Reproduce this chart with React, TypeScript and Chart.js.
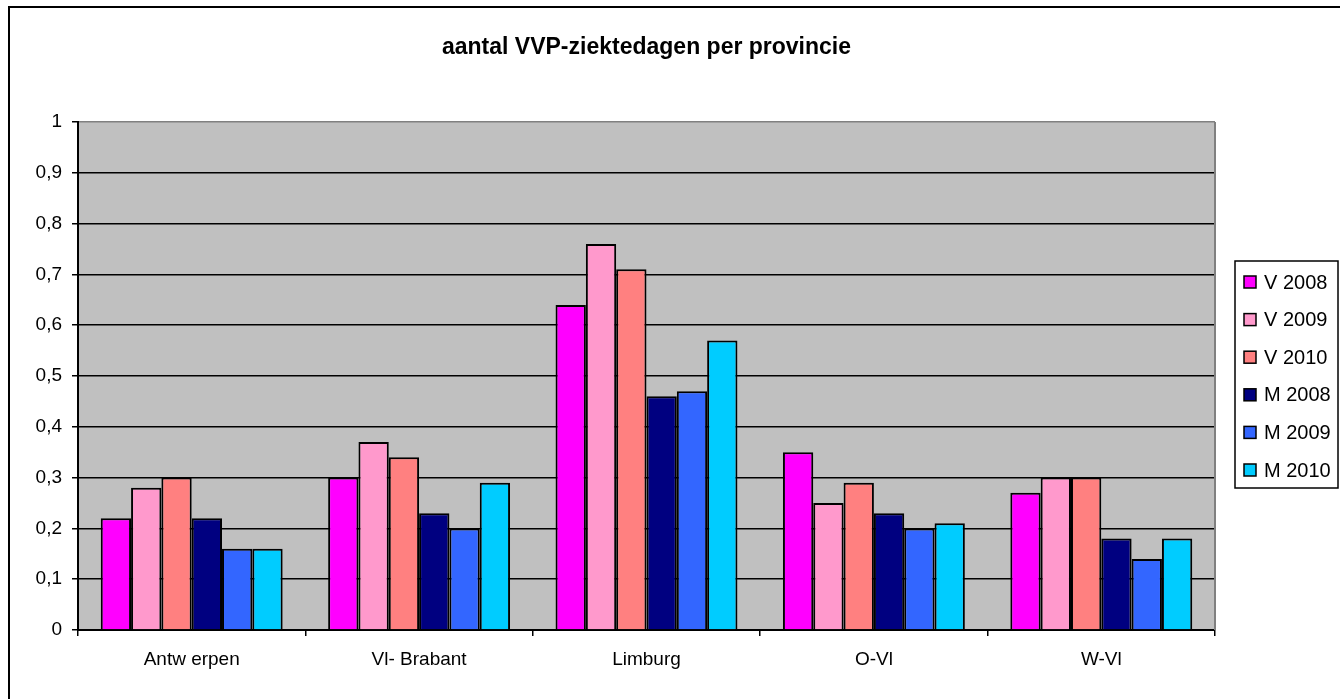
import React, { useEffect, useRef } from "react";
import { Chart, registerables } from "chart.js";

Chart.register(...registerables);

const title = "aantal VVP-ziektedagen per provincie";
const categories = ["Antw erpen", "Vl- Brabant", "Limburg", "O-Vl", "W-Vl"];
const seriesNames = ["V 2008", "V 2009", "V 2010", "M 2008", "M 2009", "M 2010"];
const seriesColors = ["#FF00FF", "#FF99CC", "#FF8080", "#000080", "#3366FF", "#00CCFF"];
const v2008 = [0.22, 0.3, 0.64, 0.35, 0.27];
const v2009 = [0.28, 0.37, 0.76, 0.25, 0.3];
const v2010 = [0.3, 0.34, 0.71, 0.29, 0.3];
const m2008 = [0.22, 0.23, 0.46, 0.23, 0.18];
const m2009 = [0.16, 0.2, 0.47, 0.2, 0.14];
const m2010 = [0.16, 0.29, 0.57, 0.21, 0.18];
const seriesValues = [v2008, v2009, v2010, m2008, m2009, m2010];
const yTickLabels = ["0", "0,1", "0,2", "0,3", "0,4", "0,5", "0,6", "0,7", "0,8", "0,9", "1"];

const FONT = "'Liberation Sans', Arial, sans-serif";

const decorPlugin = {
  id: "decor",
  beforeDraw(chart: any) {
    const { ctx, chartArea } = chart;
    ctx.save();
    ctx.fillStyle = "#FFFFFF";
    ctx.fillRect(0, 0, chart.width, chart.height);
    ctx.fillStyle = "#C0C0C0";
    ctx.fillRect(chartArea.left, chartArea.top, chartArea.right - chartArea.left, chartArea.bottom - chartArea.top);
    ctx.restore();
  },
  afterDraw(chart: any) {
    const { ctx, chartArea } = chart;
    ctx.save();
    ctx.strokeStyle = "#808080";
    ctx.lineWidth = 2;
    ctx.beginPath();
    ctx.moveTo(chartArea.right, chartArea.top);
    ctx.lineTo(chartArea.right, chartArea.bottom);
    ctx.stroke();
    ctx.strokeStyle = "#000";
    ctx.lineWidth = 2;
    ctx.beginPath();
    ctx.moveTo(9, chart.height + 2);
    ctx.lineTo(9, 7);
    ctx.lineTo(chart.width + 2, 7);
    ctx.stroke();
    ctx.fillStyle = "#000";
    ctx.font = "bold 23px " + FONT;
    ctx.textAlign = "center";
    ctx.textBaseline = "middle";
    ctx.fillText(title, (chartArea.left + chartArea.right) / 2, 48);
    const bx = 1235, by = 261, bw = 103, bh = 227;
    ctx.lineWidth = 1.5;
    ctx.strokeStyle = "#000";
    ctx.fillStyle = "#FFF";
    ctx.fillRect(bx, by, bw, bh);
    ctx.strokeRect(bx, by, bw, bh);
    ctx.font = "20px " + FONT;
    ctx.textAlign = "left";
    chart.data.datasets.forEach((ds: any, i: number) => {
      const cy = 282 + i * 37.6;
      ctx.fillStyle = ds.backgroundColor;
      ctx.fillRect(1244, cy - 6, 12, 12);
      ctx.lineWidth = 1.5;
      ctx.strokeRect(1244, cy - 6, 12, 12);
      ctx.fillStyle = "#000";
      ctx.fillText(ds.label, 1264, cy + 1);
    });
    ctx.restore();
  },
};

export default function App() {
  const ref = useRef<HTMLCanvasElement | null>(null);
  useEffect(() => {
    if (!ref.current) return;
    const chart = new Chart(ref.current, {
      type: "bar",
      data: {
        labels: categories,
        datasets: seriesNames.map((name, i) => ({
          label: name,
          data: seriesValues[i],
          backgroundColor: seriesColors[i],
          borderColor: "#000",
          borderWidth: 2,
          categoryPercentage: 0.8,
          barPercentage: 1.0,
        })),
      },
      options: {
        animation: false,
        responsive: false,
        devicePixelRatio: 1,
        layout: { padding: { left: 8, top: 122, right: 125, bottom: 0 } },
        plugins: {
          legend: { display: false },
          title: { display: false },
          tooltip: { enabled: false },
        },
        scales: {
          x: {
            afterFit: (scale: any) => {
              scale.height = 69;
            },
            grid: {
              display: true,
              drawOnChartArea: false,
              drawTicks: true,
              tickLength: 6,
              offset: true,
              color: "#000",
              lineWidth: 1.5,
            },
            border: { display: true, color: "#000", width: 2 },
            ticks: {
              color: "#000",
              font: { family: FONT, size: 19 },
              padding: 12,
              maxRotation: 0,
              autoSkip: false,
            },
          },
          y: {
            min: 0,
            max: 1,
            afterFit: (scale: any) => {
              scale.width = 70;
            },
            grid: {
              color: (c: any) => (c.tick && Math.abs(c.tick.value - 1) < 1e-6 ? "#808080" : "#000"),
              tickColor: "#000",
              lineWidth: 1.5,
              drawTicks: true,
              tickLength: 6,
            },
            border: { display: true, color: "#000", width: 2 },
            ticks: {
              stepSize: 0.1,
              color: "#000",
              font: { family: FONT, size: 19 },
              padding: 10,
              callback: (_v: any, i: number) => yTickLabels[i],
            },
          },
        },
      },
      plugins: [decorPlugin],
    });
    return () => chart.destroy();
  }, []);
  return (
    <canvas
      ref={ref}
      width={1340}
      height={699}
      style={{ position: "fixed", left: 0, top: 0, width: 1340, height: 699, display: "block" }}
    />
  );
}
